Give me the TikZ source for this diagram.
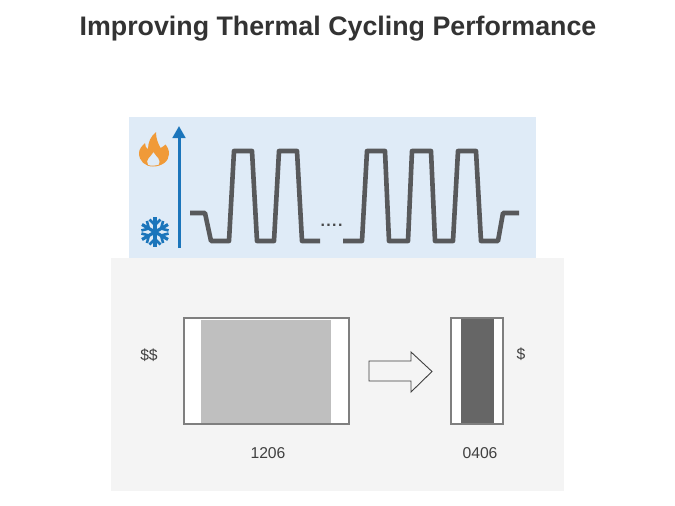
\documentclass[tikz,border=0pt]{standalone}
\usepackage{fontspec}
\setmainfont{Liberation Sans}
\usetikzlibrary{arrows.meta}

\definecolor{panelblue}{HTML}{DFEBF7}
\definecolor{panelgrey}{HTML}{F4F4F4}
\definecolor{wave}{HTML}{58595B}
\definecolor{axisblue}{HTML}{1B75BB}
\definecolor{flame}{HTML}{F09A38}
\definecolor{chipedge}{HTML}{7F7F7F}
\definecolor{labelgrey}{HTML}{404040}

\tikzset{
  waveline/.style={draw=wave,line width=4.6pt,line join=round},
  chipbody/.style={draw=chipedge,fill=white,line width=2pt},
  chiplabel/.style={text=labelgrey,font=\fontsize{15.7}{18}\selectfont},
}

\begin{document}
\begin{tikzpicture}[x=1pt,y=-1pt]

  \useasboundingbox (0,0) rectangle (675,506);

  \node[font=\fontsize{26.8}{30}\selectfont\bfseries,text=black!80] (title) at (338,28.5) {Improving Thermal Cycling Performance};

  % panels
  \fill[panelblue] (129,117) rectangle (536,259);
  \fill[panelgrey] (111,258) rectangle (564,491);

  % temperature axis
  \draw[axisblue,line width=3pt,-{Triangle[width=12.5pt,length=12pt]}] (179,248) -- (179,126);

  % flame
  \fill[flame,even odd rule] (153,166.5) .. controls (145,166.5) and (139,161) .. (139,153)
    .. controls (139,149) and (142,146) .. (145,143)
    .. controls (145,146) and (146,148) .. (148,149)
    .. controls (148,142) and (151,136) .. (156,132)
    .. controls (156,139) and (158,143) .. (160.5,148)
    .. controls (162,147) and (164.5,146) .. (165.5,144.5)
    .. controls (168,148) and (169,150) .. (169,154)
    .. controls (169,161) and (162,166.5) .. (153,166.5) -- cycle
    (148,165) .. controls (145,159) and (150,158) .. (153.5,152)
    .. controls (156,157) and (162,159) .. (158.5,165)
    .. controls (155,166) and (151,166) .. (148,165) -- cycle;

  % snowflake
  \begin{scope}[shift={(155,232)},axisblue,line width=3.2pt]
    \foreach \a in {30,90,...,330}{
      \draw[rotate=\a] (0,0) -- (15,0);
      \draw[rotate=\a,line width=2.6pt] (12.5,-5.5) -- (7,0) -- (12.5,5.5);
    }
  \end{scope}

  % cycles
  \draw[waveline] (190,213) -- (205,213) -- (211,241) -- (229,241) -- (234,151) -- (252,151) -- (257,241)
    -- (274,241) -- (279,151) -- (297,151) -- (302,241) -- (320,241);
  \draw[waveline] (343,241) -- (362,241) -- (367,151) -- (385,151) -- (389,241) -- (408,241) -- (412,151)
    -- (431,151) -- (435,241) -- (453,241) -- (458,151) -- (476,151) -- (481,241) -- (498,241) -- (503,213) -- (519,213);
  \node[text=wave!80!black,font=\fontsize{16}{16}\selectfont\bfseries] (gap) at (331.5,225) {.\kern1.4pt.\kern1.4pt.\kern1.4pt.};

  % parts
  \draw[chipbody] (184,318) rectangle (349,424);
  \fill[black!25] (201,319.5) rectangle (331,423);
  \draw[chipbody] (451,318) rectangle (503,424);
  \fill[black!60] (461,319) rectangle (494,423);

  \draw[labelgrey,line width=.9pt,fill=panelgrey,line join=miter] (369,361) -- (411,361) -- (411,352) -- (432,371.5)
    -- (411,392) -- (411,381) -- (369,381) -- cycle;

  \node[chiplabel] (costlarge) at (149,355) {\$\$};
  \node[chiplabel] (costsmall) at (521,354) {\$};
  \node[chiplabel] (sizelarge) at (268,453) {1206};
  \node[chiplabel] (sizesmall) at (480,453) {0406};

\end{tikzpicture}
\end{document}
